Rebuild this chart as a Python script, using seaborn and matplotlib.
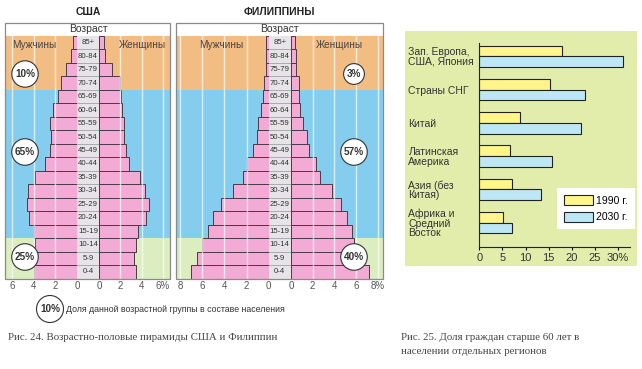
import matplotlib
matplotlib.use('Agg')
import matplotlib.pyplot as plt
import seaborn as sns
import pandas as pd
from matplotlib.patches import Rectangle

# ---------------- data ----------------
ages = ['85+', '80-84', '75-79', '70-74', '65-69', '60-64', '55-59', '50-54', '45-49',
        '40-44', '35-39', '30-34', '25-29', '20-24', '15-19', '10-14', '5-9', '0-4']
usa_male = [0.4, 0.6, 1.0, 1.5, 1.8, 2.2, 2.5, 2.4, 2.5, 3.0, 3.9, 4.5, 4.6, 4.4, 4.0, 3.9, 3.9, 4.0]
usa_female = [0.5, 0.6, 1.2, 2.0, 2.1, 2.2, 2.3, 2.3, 2.5, 2.8, 3.8, 4.3, 4.7, 4.4, 3.7, 3.5, 3.3, 3.5]
phl_male = [0.2, 0.2, 0.25, 0.4, 0.5, 0.7, 1.0, 1.1, 1.4, 2.0, 2.3, 3.2, 4.3, 5.0, 5.5, 6.0, 6.5, 7.0]
phl_female = [0.35, 0.45, 0.5, 0.75, 0.7, 0.85, 1.15, 1.5, 1.7, 2.3, 2.7, 3.8, 4.6, 5.2, 5.6, 5.8, 6.5, 7.2]
usa_shares = ['10%', '65%', '25%']
phl_shares = ['3%', '57%', '40%']

regions = ['Зап. Европа,\nСША, Япония', 'Страны СНГ', 'Китай', 'Латинская\nАмерика',
           'Азия (без\nКитая)', 'Африка и\nСредний\nВосток']
share_1990 = [17.8, 15.2, 8.8, 6.6, 7.1, 5.1]
share_2030 = [31.1, 22.9, 22.1, 15.8, 13.4, 7.1]
years = ['1990 г.', '2030 г.']

# ---------------- style ----------------
plt.rcParams['font.family'] = ['Liberation Sans', 'DejaVu Sans']
ORANGE = '#F2BD82'
BLUE = '#84CDEE'
GREEN = '#DCEDC0'
PINK = '#F3AAD5'
EDGE = '#4A3A48'
TXT = '#333333'
BG_BAR = '#E2EDAC'
YEL = '#FFF58C'
LBLUE = '#BDE7F5'

W, H = 642, 369
fig = plt.figure(figsize=(W / 100, H / 100), dpi=100)


def box(x0, y0, x1, y1):
    return [x0 / W, 1 - y1 / H, (x1 - x0) / W, (y1 - y0) / H]


def fx(x):
    return x / W


def fy(y):
    return 1 - y / H


def pyramid(male, female, xl, xc0, xc1, xr, mmax, fmax, ticks, title, shares, share_x,
            mx, wx):
    top, bot = 36, 278.5
    axm = fig.add_axes(box(xl, top, xc0, bot))
    axf = fig.add_axes(box(xc1, top, xr, bot))
    axc = fig.add_axes(box(xc0, top, xc1, bot))
    for ax, vals, lim, side in ((axm, male, (mmax, 0), 'm'), (axf, female, (0, fmax), 'f')):
        ax.axhspan(-0.5, 3.5, color=ORANGE, lw=0, zorder=0)
        ax.axhspan(3.5, 14.5, color=BLUE, lw=0, zorder=0)
        ax.axhspan(14.5, 17.5, color=GREEN, lw=0, zorder=0)
        sns.barplot(x=vals, y=ages, order=ages, color=PINK, saturation=1, width=1,
                    edgecolor=EDGE, linewidth=0.7, ax=ax, zorder=2)
        ax.set_xlim(*lim)
        ax.set_ylim(17.5, -0.5)
        for t in ticks[1:]:
            ax.axvline(t, color='white', lw=1.0, alpha=0.7, zorder=3)
        ax.set_xticks(ticks)
        labs = [str(t) for t in ticks]
        if side == 'f':
            labs[-1] = labs[-1] + '%'
        ax.set_xticklabels(labs)
        ax.tick_params(axis='x', length=0, pad=2, labelsize=7, labelcolor='#555555')
        ax.set_yticks([])
        ax.set_xlabel('')
        ax.set_ylabel('')
        for s in ax.spines.values():
            s.set_visible(False)
    axc.set_facecolor('#E6E4E6')
    axc.set_xlim(0, 1)
    axc.set_ylim(17.5, -0.5)
    for i, a in enumerate(ages):
        axc.text(0.5, i, a, ha='center', va='center', fontsize=5.6, color='#333333')
        axc.axhline(i + 0.5, color='#9a909a', lw=0.5)
    axc.set_xticks([])
    axc.set_yticks([])
    for s in axc.spines.values():
        s.set_visible(False)
    cx = (xc0 + xc1) / 2
    fig.text(fx(cx), fy(12), title, ha='center', va='center', fontsize=7.5,
             fontweight='bold', color='#222222')
    fig.text(fx(cx), fy(29.5), 'Возраст', ha='center', va='center', fontsize=7.5, color=TXT)
    fig.patches.append(Rectangle((fx(xl), fy(bot)), (xr - xl) / W, (bot - 22.5) / H,
                                 transform=fig.transFigure, fill=False,
                                 edgecolor='#8a8a8a', lw=0.9, zorder=5))
    fig.text(fx(mx), fy(45.5), 'Мужчины', ha='center', va='center',
             fontsize=7.2, color='#4a4444')
    fig.text(fx(wx), fy(45.5), 'Женщины', ha='center', va='center',
             fontsize=7.2, color='#4a4444')
    for s, y in zip(shares, (74, 152, 257)):
        fig.text(fx(share_x), fy(y), s, ha='center', va='center', fontsize=7.2,
                 fontweight='bold', color=TXT,
                 bbox=dict(boxstyle='circle,pad=0.32', facecolor='white',
                           edgecolor='#333333', lw=0.8))


pyramid(usa_male, usa_female, 5, 77, 99, 170, 6.65, 6.66, [0, 2, 4, 6], 'США', usa_shares, 25,
        34, 142)
pyramid(phl_male, phl_female, 176, 268.7, 291, 383, 8.36, 8.5, [0, 2, 4, 6, 8], 'ФИЛИППИНЫ',
        phl_shares, 354, 221, 339)

# legend for share circles
fig.text(fx(50), fy(309), '10%', ha='center', va='center', fontsize=7.2, fontweight='bold',
         color=TXT, bbox=dict(boxstyle='circle,pad=0.35', facecolor='white',
                              edgecolor='#333333', lw=0.8))
fig.text(fx(66), fy(309), 'Доля данной возрастной группы в составе населения', ha='left',
         va='center', fontsize=6.3, color=TXT)

# ---------------- bar chart ----------------
fig.patches.append(Rectangle((fx(405), fy(266)), (637 - 405) / W, (266 - 31) / H,
                             transform=fig.transFigure, facecolor=BG_BAR,
                             edgecolor='none', zorder=-1))
df = pd.DataFrame({'region': regions * 2,
                   'year': [years[0]] * len(regions) + [years[1]] * len(regions),
                   'share': share_1990 + share_2030})
axb = fig.add_axes(box(479.3, 43, 630, 247))
axb.set_facecolor('none')
sns.barplot(data=df, y='region', x='share', hue='year', order=regions, hue_order=years,
            palette=[YEL, LBLUE], saturation=1, width=0.64, edgecolor='#222222',
            linewidth=0.8, ax=axb)
axb.set_xlim(0, 32.6)
axb.set_ylim(5.73, -0.4)
axb.set_xticks([0, 5, 10, 15, 20, 25, 30])
axb.set_xticklabels(['0', '5', '10', '15', '20', '25', '30%'])
axb.tick_params(axis='x', length=2.5, width=0.8, pad=1.5, labelsize=8, labelcolor=TXT)
axb.tick_params(axis='y', length=0, pad=51, labelsize=7.5, labelcolor=TXT)
for lab in axb.get_yticklabels():
    lab.set_ha('left')
    lab.set_linespacing(0.95)
axb.set_xlabel('')
axb.set_ylabel('')
axb.spines['top'].set_visible(False)
axb.spines['right'].set_visible(False)
axb.spines['left'].set_color('#222222')
axb.spines['bottom'].set_color('#222222')
handles, labels = axb.get_legend_handles_labels()
axb.legend(handles, labels, loc='upper left', bbox_to_anchor=(fx(557), fy(188)),
           bbox_transform=fig.transFigure, frameon=True, fancybox=False, edgecolor='none',
           facecolor='white', framealpha=1, fontsize=7.5, handlelength=2.75,
           handleheight=1.1, labelspacing=0.55, borderpad=0.7, handletextpad=0.3,
           borderaxespad=0)

# ---------------- captions ----------------
fig.text(fx(8), fy(337), 'Рис. 24. Возрастно-половые пирамиды США и Филиппин', ha='left',
         va='center', fontsize=7.8, color='#444444', family=['Liberation Serif', 'DejaVu Serif'])
fig.text(fx(401), fy(337), 'Рис. 25. Доля граждан старше 60 лет в', ha='left',
         va='center', fontsize=7.8, color='#444444', family=['Liberation Serif', 'DejaVu Serif'])
fig.text(fx(401), fy(352), 'населении отдельных регионов', ha='left',
         va='center', fontsize=7.8, color='#444444', family=['Liberation Serif', 'DejaVu Serif'])

fig.savefig('out.png', dpi=100)
